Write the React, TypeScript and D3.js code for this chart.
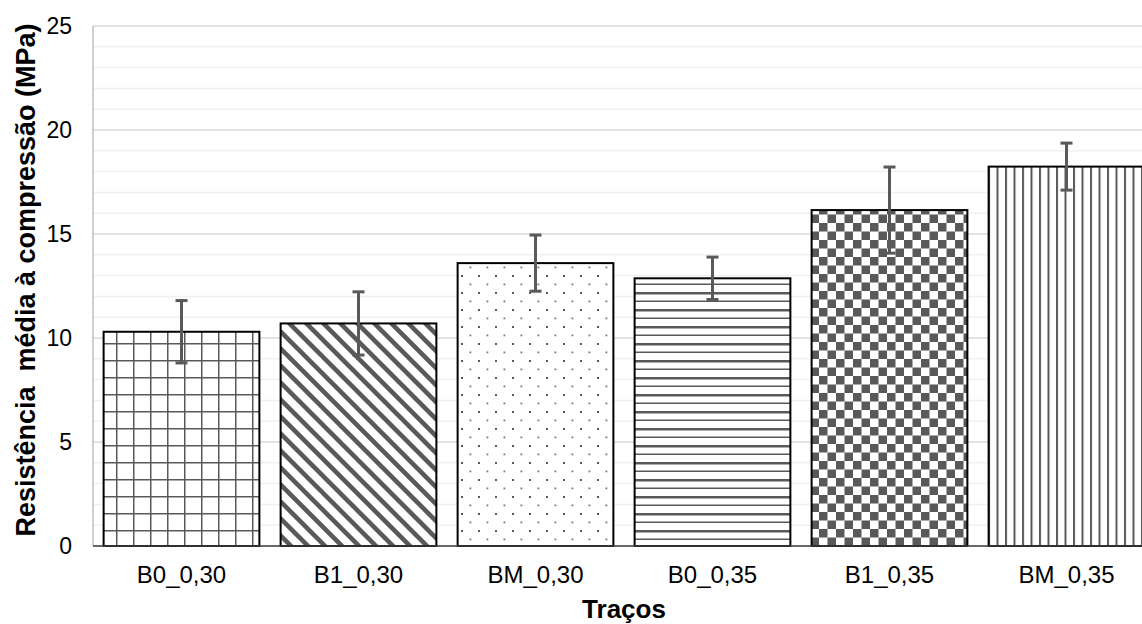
import * as d3 from "d3";
import React from "react";

const categories = ["B0_0,30", "B1_0,30", "BM_0,30", "B0_0,35", "B1_0,35", "BM_0,35"];
const means = [10.3, 10.7, 13.6, 12.87, 16.15, 18.24];
const errors = [1.5, 1.52, 1.35, 1.02, 2.07, 1.13];
const yTicks = [0, 5, 10, 15, 20, 25];
const patternIds = ["grid", "diag", "dots", "hlines", "checker", "vlines"];

const W = 1142;
const H = 624;
const margin = { top: 26, left: 93, bottom: 78 };
const dark = "#595959";
const font = "'Liberation Sans', Arial, sans-serif";

const App = () => {
  const x = d3
    .scaleBand()
    .domain(categories)
    .range([margin.left, margin.left + 6 * 177])
    .paddingInner(0.12)
    .paddingOuter(0.06);

  const y = d3.scaleLinear().domain([0, 25]).range([H - margin.bottom, margin.top]);

  const minor = d3.range(0, 26, 1);

  return (
    <svg width={W} height={H} style={{ position: "absolute", left: 0, top: 0 }}>
      <defs>
        <pattern id="grid" patternUnits="userSpaceOnUse" width={17} height={17} x={99} y={3}>
          <rect width={17} height={17} fill="#fff" />
          <rect x={0} y={0} width={17} height={1.5} fill={dark} />
          <rect x={0} y={0} width={1.5} height={17} fill={dark} />
        </pattern>
        <pattern id="diag" patternUnits="userSpaceOnUse" width={17} height={17}>
          <rect width={17} height={17} fill="#fff" />
          <path d="M-4,-4 L21,21 M-4,13 L4,21 M13,-4 L21,4" stroke={dark} strokeWidth={4.5} />
        </pattern>
        <pattern id="dots" patternUnits="userSpaceOnUse" width={17} height={17} x={2} y={3}>
          <rect width={17} height={17} fill="#fff" />
          <rect x={0} y={0} width={2} height={2} fill={dark} />
          <rect x={8.5} y={8.5} width={1.8} height={1.8} fill="#7a7a7a" />
        </pattern>
        <pattern id="hlines" patternUnits="userSpaceOnUse" width={17} height={17} y={3}>
          <rect width={17} height={17} fill="#fff" />
          <rect x={0} y={0} width={17} height={2.5} fill={dark} />
          <rect x={0} y={8.5} width={17} height={1.5} fill={dark} />
        </pattern>
        <pattern id="checker" patternUnits="userSpaceOnUse" width={17} height={17} x={3} y={2}>
          <rect width={17} height={17} fill="#fff" />
          <rect x={0} y={0} width={8.5} height={8.5} fill={dark} />
          <rect x={8.5} y={8.5} width={8.5} height={8.5} fill={dark} />
        </pattern>
        <pattern id="vlines" patternUnits="userSpaceOnUse" width={8.5} height={17} x={2}>
          <rect width={8.5} height={17} fill="#fff" />
          <rect x={0} y={0} width={2} height={17} fill={dark} />
        </pattern>
      </defs>

      {/* gridlines */}
      {minor.map((v) => (
        <line
          key={"g" + v}
          x1={margin.left}
          x2={W}
          y1={y(v)}
          y2={y(v)}
          stroke={v % 5 === 0 ? "#d9d9d9" : "#f0f0f0"}
          strokeWidth={1.5}
        />
      ))}
      <line x1={margin.left} x2={margin.left} y1={y(25)} y2={y(0)} stroke="#bfbfbf" strokeWidth={1.5} />

      {/* bars */}
      {categories.map((c, i) => (
        <rect
          key={c}
          x={x(c)}
          y={y(means[i])}
          width={x.bandwidth()}
          height={y(0) - y(means[i])}
          fill={`url(#${patternIds[i]})`}
          stroke="#000"
          strokeWidth={2}
        />
      ))}

      <line x1={margin.left} x2={W} y1={y(0)} y2={y(0)} stroke="#404040" strokeWidth={1.5} />

      {/* error bars */}
      {categories.map((c, i) => {
        const cx = (x(c) as number) + x.bandwidth() / 2;
        const top = y(means[i] + errors[i]);
        const bot = y(means[i] - errors[i]);
        return (
          <g key={"e" + c} stroke={dark} strokeWidth={3}>
            <line x1={cx} x2={cx} y1={top} y2={bot} />
            <line x1={cx - 6} x2={cx + 6} y1={top} y2={top} />
            <line x1={cx - 6} x2={cx + 6} y1={bot} y2={bot} />
          </g>
        );
      })}

      {/* y ticks */}
      {yTicks.map((t) => (
        <text
          key={"t" + t}
          x={72}
          y={y(t)}
          dy="0.35em"
          textAnchor="end"
          fontFamily={font}
          fontSize={23}
          fill="#000"
        >
          {t}
        </text>
      ))}

      {/* x labels */}
      {categories.map((c) => (
        <text
          key={"l" + c}
          x={(x(c) as number) + x.bandwidth() / 2}
          y={583}
          textAnchor="middle"
          fontFamily={font}
          fontSize={24}
          fill="#000"
        >
          {c}
        </text>
      ))}

      <text x={624} y={618} textAnchor="middle" fontFamily={font} fontSize={26} fontWeight="bold">
        Traços
      </text>
      <text
        transform={`translate(35, 280) rotate(-90)`}
        textAnchor="middle"
        fontFamily={font}
        fontSize={27}
        fontWeight="bold"
        style={{ whiteSpace: "pre" }}
      >
        {"Resistência  média à compressão (MPa)"}
      </text>
    </svg>
  );
};

export default App;
